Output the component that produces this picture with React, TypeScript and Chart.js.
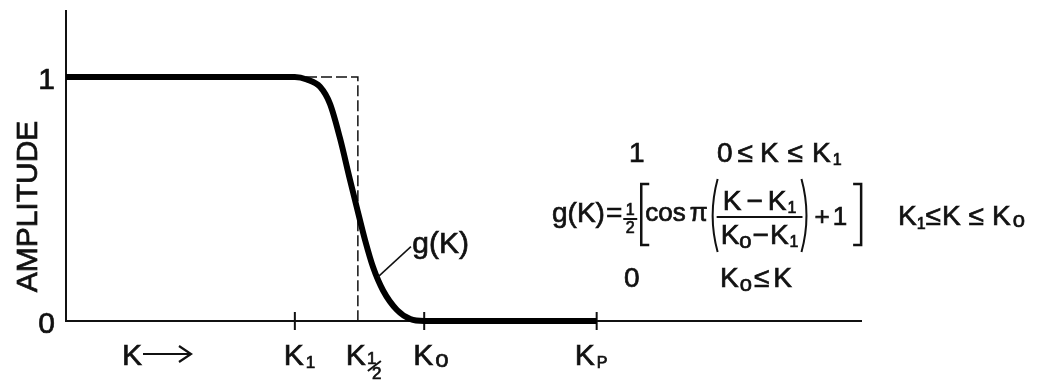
import { useEffect, useRef } from 'react';
import { Chart, registerables } from 'chart.js';

Chart.register(...registerables);

// Wavenumber K (arbitrary units along the horizontal axis) and the taper amplitude g(K)
const kValues = [0, 3.45, 3.63, 3.83, 3.98, 4.13, 4.28, 4.38, 4.51, 4.63, 4.78, 4.99, 5.19, 5.4, 8.0];
const amplitude = [1, 1, 0.99, 0.96, 0.89, 0.75, 0.58, 0.47, 0.33, 0.22, 0.125, 0.045, 0.008, 0, 0];

// Marked wavenumbers on the K axis
const kOne = 3.45;
const kHalf = 4.4;
const kZero = 5.4;
const kP = 8.0;

// Amplitude tick labels
const amplitudeTicks = [0, 1];

const xMax = 12;
const yMax = 1.275;

const FONT = '"Liberation Sans", Arial, sans-serif';
const INK = '#111';

type Run = { t: string; size?: number; dy?: number; dx?: number };

// Draws a row of text pieces left to right; lettering gets a thin outline for weight
function drawRuns(ctx: CanvasRenderingContext2D, x: number, y: number, runs: Run[], base: number) {
  let cx = x;
  for (const r of runs) {
    const s = r.size ?? base;
    ctx.font = `${s}px ${FONT}`;
    cx += r.dx ?? 0;
    ctx.fillText(r.t, cx, y + (r.dy ?? 0));
    ctx.lineWidth = 0.7;
    ctx.strokeText(r.t, cx, y + (r.dy ?? 0));
    cx += ctx.measureText(r.t).width;
  }
  return cx;
}

function runsWidth(ctx: CanvasRenderingContext2D, runs: Run[], base: number) {
  let w = 0;
  for (const r of runs) {
    ctx.font = `${r.size ?? base}px ${FONT}`;
    w += (r.dx ?? 0) + ctx.measureText(r.t).width;
  }
  return w;
}

function bracket(ctx: CanvasRenderingContext2D, x: number, top: number, bottom: number, dir: number) {
  ctx.lineWidth = 2.5;
  ctx.beginPath();
  ctx.moveTo(x + dir * 8, top);
  ctx.lineTo(x, top);
  ctx.lineTo(x, bottom);
  ctx.lineTo(x + dir * 8, bottom);
  ctx.stroke();
}

function paren(ctx: CanvasRenderingContext2D, x: number, top: number, bottom: number, dir: number) {
  ctx.lineWidth = 2;
  ctx.beginPath();
  ctx.moveTo(x + dir * 4, top);
  ctx.quadraticCurveTo(x - dir * 6, (top + bottom) / 2, x + dir * 4, bottom);
  ctx.stroke();
}

const axesPlugin = {
  id: 'taperAxes',
  beforeDatasetsDraw(chart: any) {
    const { ctx } = chart;
    const xs = chart.scales.x;
    const ys = chart.scales.y;
    const x0 = xs.getPixelForValue(0);
    const y0 = ys.getPixelForValue(0);
    const yTop = ys.getPixelForValue(yMax);
    const y1 = ys.getPixelForValue(1);
    ctx.save();
    ctx.strokeStyle = INK;
    ctx.lineWidth = 2;
    ctx.beginPath();
    ctx.moveTo(x0, yTop);
    ctx.lineTo(x0, y0);
    ctx.lineTo(xs.getPixelForValue(xMax), y0);
    ctx.stroke();

    // tick marks crossing the K axis
    for (const k of [kOne, kZero, kP]) {
      const px = xs.getPixelForValue(k);
      ctx.beginPath();
      ctx.moveTo(px, y0 - 9);
      ctx.lineTo(px, y0 + 9);
      ctx.stroke();
    }

    // ideal box-car cut-off at K 1/2
    const xh = xs.getPixelForValue(kHalf);
    ctx.lineWidth = 1.5;
    ctx.setLineDash([11, 4]);
    ctx.beginPath();
    ctx.moveTo(x0, y1);
    ctx.lineTo(xh, y1);
    ctx.lineTo(xh, y0);
    ctx.stroke();
    ctx.restore();
  },
  afterDatasetsDraw(chart: any) {
    const { ctx } = chart;
    const xs = chart.scales.x;
    const ys = chart.scales.y;
    const x0 = xs.getPixelForValue(0);
    const y0 = ys.getPixelForValue(0);
    ctx.save();
    ctx.fillStyle = INK;
    ctx.strokeStyle = INK;
    ctx.textBaseline = 'alphabetic';
    ctx.textAlign = 'left';

    // amplitude labels
    for (const v of amplitudeTicks) {
      ctx.font = `30px ${FONT}`;
      const w = ctx.measureText(String(v)).width;
      drawRuns(ctx, x0 - 11 - w, ys.getPixelForValue(v) + 12, [{ t: String(v) }], 30);
    }

    // vertical axis title
    ctx.save();
    ctx.translate(37, (ys.getPixelForValue(yMax) + y0) / 2 + 41);
    ctx.rotate(-Math.PI / 2);
    ctx.font = `30px ${FONT}`;
    const tw = ctx.measureText('AMPLITUDE').width;
    drawRuns(ctx, -tw / 2, 0, [{ t: 'AMPLITUDE' }], 30);
    ctx.restore();

    // K axis labels
    const base = y0 + 44;
    drawRuns(ctx, x0 + 56, base, [{ t: 'K' }], 30);
    ctx.lineWidth = 2.2;
    ctx.beginPath();
    ctx.moveTo(x0 + 77, base - 11);
    ctx.lineTo(x0 + 124, base - 11);
    ctx.moveTo(x0 + 113, base - 19);
    ctx.lineTo(x0 + 125, base - 11);
    ctx.lineTo(x0 + 113, base - 3);
    ctx.stroke();

    const pOne = xs.getPixelForValue(kOne);
    drawRuns(ctx, pOne - 11, base, [{ t: 'K' }, { t: '1', size: 17, dy: 3, dx: 2 }], 30);

    const pHalf = xs.getPixelForValue(kHalf);
    const hx = drawRuns(ctx, pHalf - 12, base, [{ t: 'K' }], 30);
    drawRuns(ctx, hx + 1, base - 1, [{ t: '1' }], 17);
    drawRuns(ctx, hx + 6, base + 14, [{ t: '2' }], 17);
    ctx.lineWidth = 2;
    ctx.beginPath();
    ctx.moveTo(hx + 2, base + 6);
    ctx.lineTo(hx + 15, base - 4);
    ctx.stroke();

    const pZero = xs.getPixelForValue(kZero);
    drawRuns(ctx, pZero - 11, base, [{ t: 'K' }, { t: 'o', size: 24, dy: 2, dx: 2 }], 30);

    const pP = xs.getPixelForValue(kP);
    drawRuns(ctx, pP - 22, base, [{ t: 'K' }, { t: 'P', size: 16, dy: 3, dx: 2 }], 30);

    // curve label with leader line
    ctx.lineWidth = 1.5;
    ctx.beginPath();
    ctx.moveTo(xs.getPixelForValue(4.7), ys.getPixelForValue(0.18));
    ctx.lineTo(xs.getPixelForValue(5.2), ys.getPixelForValue(0.305));
    ctx.stroke();
    drawRuns(ctx, xs.getPixelForValue(5.22), ys.getPixelForValue(0.28), [{ t: 'g(K)' }], 30);

    // defining formula, three cases
    const fs = 28;
    const rowTop = 162;
    const rowBot = 287;
    drawRuns(ctx, 629, rowTop, [{ t: '1' }], fs);
    drawRuns(ctx, 717, rowTop, [
      { t: '0' }, { t: '≤', dx: 5 }, { t: 'K', dx: 7 }, { t: '≤', dx: 9 }, { t: 'K', dx: 9 },
      { t: '1', size: 16, dy: 3, dx: 2 },
    ], fs);

    const gEnd = drawRuns(ctx, 552, 222, [{ t: 'g(K)' }, { t: '=', dx: 1 }], fs);
    // one half
    const hc = gEnd + 8;
    ctx.font = `16px ${FONT}`;
    const w1 = ctx.measureText('1').width;
    const w2 = ctx.measureText('2').width;
    drawRuns(ctx, hc - w1 / 2, 215, [{ t: '1' }], 16);
    drawRuns(ctx, hc - w2 / 2, 233, [{ t: '2' }], 16);
    ctx.lineWidth = 2;
    ctx.beginPath();
    ctx.moveTo(hc - 7, 219);
    ctx.lineTo(hc + 7, 219);
    ctx.stroke();

    bracket(ctx, hc + 11, 184, 245, 1);
    const cosEnd = drawRuns(ctx, hc + 15, 221, [{ t: 'cos', size: 26 }, { t: 'π', dx: 4, size: 26 }], fs);

    // fraction (K - K1)/(K0 - K1) in tall parentheses
    const num: Run[] = [{ t: 'K' }, { t: '−', dx: 5 }, { t: 'K', dx: 5 }, { t: '1', size: 16, dy: 3, dx: 1 }];
    const den: Run[] = [{ t: 'K' }, { t: 'o', size: 22, dy: 4, dx: 0 }, { t: '−', dx: 1 }, { t: 'K', dx: 1 }, { t: '1', size: 16, dy: 3, dx: 1 }];
    const fx = cosEnd + 9;
    const fw = Math.max(runsWidth(ctx, num, fs), runsWidth(ctx, den, fs)) + 8;
    const barY = 217;
    drawRuns(ctx, fx + (fw - runsWidth(ctx, num, fs)) / 2, barY - 7, num, fs);
    drawRuns(ctx, fx + (fw - runsWidth(ctx, den, fs)) / 2, barY + 27, den, fs);
    ctx.lineWidth = 2;
    ctx.beginPath();
    ctx.moveTo(fx, barY);
    ctx.lineTo(fx + fw, barY);
    ctx.stroke();
    paren(ctx, fx - 3, barY - 38, barY + 35, 1);
    paren(ctx, fx + fw + 3, barY - 38, barY + 35, -1);

    const plusEnd = drawRuns(ctx, Math.max(fx + fw + 12, 812), 225, [{ t: '+', size: 26 }, { t: '1', dx: 3, size: 26 }], fs);
    bracket(ctx, Math.max(plusEnd + 14, 857), 184, 245, -1);

    drawRuns(ctx, 898, 225, [
      { t: 'K' }, { t: '1', size: 16, dy: 4, dx: 0 }, { t: '≤', dx: 0 }, { t: 'K', dx: 1 },
      { t: '≤', dx: 8 }, { t: 'K', dx: 8 }, { t: 'o', size: 22, dy: 2, dx: 2 },
    ], fs);

    drawRuns(ctx, 624, rowBot, [{ t: '0' }], fs);
    drawRuns(ctx, 720, rowBot, [
      { t: 'K' }, { t: 'o', size: 22, dy: 4, dx: 1 }, { t: '≤', dx: 2 }, { t: 'K', dx: 4 },
    ], fs);

    ctx.restore();
  },
};

export default function App() {
  const canvasRef = useRef<HTMLCanvasElement | null>(null);

  useEffect(() => {
    const canvas = canvasRef.current;
    if (!canvas) return;
    const chart = new Chart(canvas, {
      type: 'line',
      data: {
        datasets: [
          {
            label: 'g(K)',
            data: kValues.map((k, i) => ({ x: k, y: amplitude[i] })),
            borderColor: '#000',
            borderWidth: 6,
            pointRadius: 0,
            cubicInterpolationMode: 'monotone',
            fill: false,
            clip: false as any,
          },
        ],
      },
      options: {
        animation: false,
        responsive: false,
        events: [],
        layout: { padding: { left: 66, right: 175, top: 10, bottom: 64 } },
        plugins: {
          legend: { display: false },
          tooltip: { enabled: false },
          title: { display: false },
        },
        scales: {
          x: { type: 'linear', min: 0, max: xMax, display: false },
          y: { type: 'linear', min: 0, max: yMax, display: false },
        },
      },
      plugins: [axesPlugin],
    });
    return () => chart.destroy();
  }, []);

  return (
    <div style={{ position: 'fixed', left: 0, top: 0, width: 1037, height: 385, background: '#fff' }}>
      <canvas ref={canvasRef} width={1037} height={385} style={{ display: 'block' }} />
    </div>
  );
}
